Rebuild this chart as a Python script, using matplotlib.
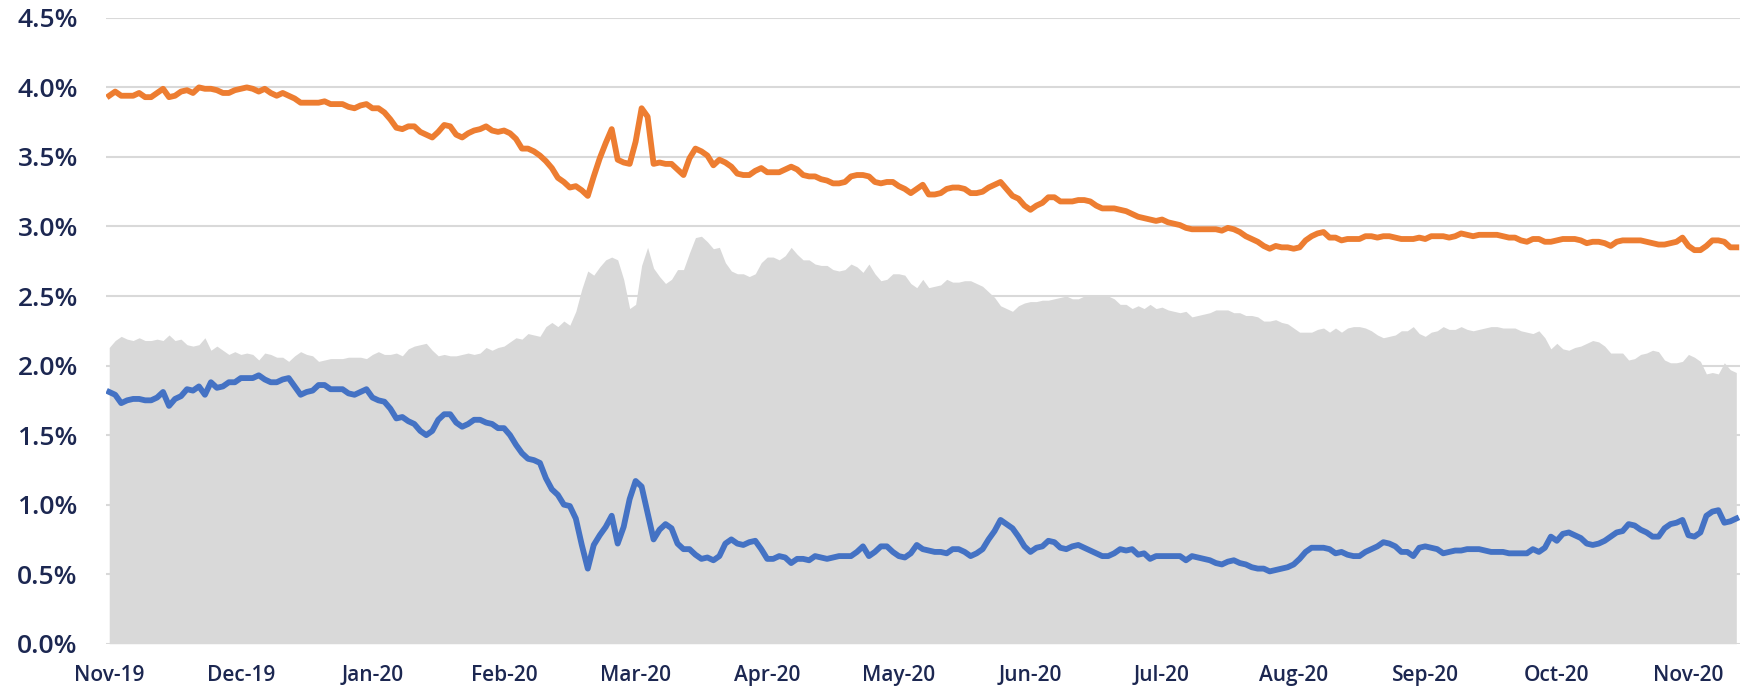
import numpy as np
import pandas as pd
import matplotlib
matplotlib.use("Agg")
import matplotlib.pyplot as plt

# daily rates (%), one value per business day from 1 Nov 2019
upper_rate = [
    3.94, 3.97, 3.94, 3.94, 3.94, 3.96, 3.93, 3.93, 3.96, 3.99,
    3.93, 3.94, 3.97, 3.98, 3.96, 4.00, 3.99, 3.99, 3.98, 3.96,
    3.96, 3.98, 3.99, 4.00, 3.99, 3.97, 3.99, 3.96, 3.94, 3.96,
    3.94, 3.92, 3.89, 3.89, 3.89, 3.89, 3.90, 3.88, 3.88, 3.88,
    3.86, 3.85, 3.87, 3.88, 3.85, 3.85, 3.82, 3.77, 3.71, 3.70,
    3.72, 3.72, 3.68, 3.66, 3.64, 3.68, 3.73, 3.72, 3.66, 3.64,
    3.67, 3.69, 3.70, 3.72, 3.69, 3.68, 3.69, 3.67, 3.63, 3.56,
    3.56, 3.54, 3.51, 3.47, 3.42, 3.35, 3.32, 3.28, 3.29, 3.26,
    3.22, 3.36, 3.49, 3.60, 3.70, 3.48, 3.46, 3.45, 3.61, 3.85,
    3.79, 3.45, 3.46, 3.45, 3.45, 3.41, 3.37, 3.49, 3.56, 3.54,
    3.51, 3.44, 3.48, 3.46, 3.43, 3.38, 3.37, 3.37, 3.40, 3.42,
    3.39, 3.39, 3.39, 3.41, 3.43, 3.41, 3.37, 3.36, 3.36, 3.34,
    3.33, 3.31, 3.31, 3.32, 3.36, 3.37, 3.37, 3.36, 3.32, 3.31,
    3.32, 3.32, 3.29, 3.27, 3.24, 3.27, 3.30, 3.23, 3.23, 3.24,
    3.27, 3.28, 3.28, 3.27, 3.24, 3.24, 3.25, 3.28, 3.30, 3.32,
    3.27, 3.22, 3.20, 3.15, 3.12, 3.15, 3.17, 3.21, 3.21, 3.18,
    3.18, 3.18, 3.19, 3.19, 3.18, 3.15, 3.13, 3.13, 3.13, 3.12,
    3.11, 3.09, 3.07, 3.06, 3.05, 3.04, 3.05, 3.03, 3.02, 3.01,
    2.99, 2.98, 2.98, 2.98, 2.98, 2.98, 2.97, 2.99, 2.98, 2.96,
    2.93, 2.91, 2.89, 2.86, 2.84, 2.86, 2.85, 2.85, 2.84, 2.85,
    2.90, 2.93, 2.95, 2.96, 2.92, 2.92, 2.90, 2.91, 2.91, 2.91,
    2.93, 2.93, 2.92, 2.93, 2.93, 2.92, 2.91, 2.91, 2.91, 2.92,
    2.91, 2.93, 2.93, 2.93, 2.92, 2.93, 2.95, 2.94, 2.93, 2.94,
    2.94, 2.94, 2.94, 2.93, 2.92, 2.92, 2.90, 2.89, 2.91, 2.91,
    2.89, 2.89, 2.90, 2.91, 2.91, 2.91, 2.90, 2.88, 2.89, 2.89,
    2.88, 2.86, 2.89, 2.90, 2.90, 2.90, 2.90, 2.89, 2.88, 2.87,
    2.87, 2.88, 2.89, 2.92, 2.86, 2.83, 2.83, 2.86, 2.90, 2.90,
    2.89, 2.85, 2.85,
]

lower_rate = [
    1.81, 1.79, 1.73, 1.75, 1.76, 1.76, 1.75, 1.75, 1.77, 1.81,
    1.71, 1.76, 1.78, 1.83, 1.82, 1.85, 1.79, 1.88, 1.84, 1.85,
    1.88, 1.88, 1.91, 1.91, 1.91, 1.93, 1.90, 1.88, 1.88, 1.90,
    1.91, 1.85, 1.79, 1.81, 1.82, 1.86, 1.86, 1.83, 1.83, 1.83,
    1.80, 1.79, 1.81, 1.83, 1.77, 1.75, 1.74, 1.69, 1.62, 1.63,
    1.60, 1.58, 1.53, 1.50, 1.53, 1.61, 1.65, 1.65, 1.59, 1.56,
    1.58, 1.61, 1.61, 1.59, 1.58, 1.55, 1.55, 1.50, 1.43, 1.37,
    1.33, 1.32, 1.30, 1.19, 1.11, 1.07, 1.00, 0.99, 0.90, 0.71,
    0.54, 0.71, 0.78, 0.84, 0.92, 0.72, 0.84, 1.04, 1.17, 1.13,
    0.94, 0.75, 0.82, 0.86, 0.83, 0.72, 0.68, 0.68, 0.64, 0.61,
    0.62, 0.60, 0.63, 0.72, 0.75, 0.72, 0.71, 0.73, 0.74, 0.68,
    0.61, 0.61, 0.63, 0.62, 0.58, 0.61, 0.61, 0.60, 0.63, 0.62,
    0.61, 0.62, 0.63, 0.63, 0.63, 0.66, 0.70, 0.63, 0.66, 0.70,
    0.70, 0.66, 0.63, 0.62, 0.65, 0.71, 0.68, 0.67, 0.66, 0.66,
    0.65, 0.68, 0.68, 0.66, 0.63, 0.65, 0.68, 0.75, 0.81, 0.89,
    0.86, 0.83, 0.77, 0.70, 0.66, 0.69, 0.70, 0.74, 0.73, 0.69,
    0.68, 0.70, 0.71, 0.69, 0.67, 0.65, 0.63, 0.63, 0.65, 0.68,
    0.67, 0.68, 0.64, 0.65, 0.61, 0.63, 0.63, 0.63, 0.63, 0.63,
    0.60, 0.63, 0.62, 0.61, 0.60, 0.58, 0.57, 0.59, 0.60, 0.58,
    0.57, 0.55, 0.54, 0.54, 0.52, 0.53, 0.54, 0.55, 0.57, 0.61,
    0.66, 0.69, 0.69, 0.69, 0.68, 0.65, 0.66, 0.64, 0.63, 0.63,
    0.66, 0.68, 0.70, 0.73, 0.72, 0.70, 0.66, 0.66, 0.63, 0.69,
    0.70, 0.69, 0.68, 0.65, 0.66, 0.67, 0.67, 0.68, 0.68, 0.68,
    0.67, 0.66, 0.66, 0.66, 0.65, 0.65, 0.65, 0.65, 0.68, 0.66,
    0.69, 0.77, 0.74, 0.79, 0.80, 0.78, 0.76, 0.72, 0.71, 0.72,
    0.74, 0.77, 0.80, 0.81, 0.86, 0.85, 0.82, 0.80, 0.77, 0.77,
    0.83, 0.86, 0.87, 0.89, 0.78, 0.77, 0.80, 0.92, 0.95, 0.96,
    0.87, 0.88, 0.90,
]

yticks = [0.0, 0.5, 1.0, 1.5, 2.0, 2.5, 3.0, 3.5, 4.0, 4.5]
label_every = 22

dates = pd.bdate_range("2019-11-01", periods=len(upper_rate))
upper = np.array(upper_rate)
lower = np.array(lower_rate)
spread = upper - lower  # grey area is the gap between the two rates
idx = np.arange(len(dates))

navy = "#1c2751"
plt.rcParams["font.family"] = ["Open Sans", "DejaVu Sans"]

fig = plt.figure(figsize=(17.46, 6.87), dpi=100)
ax = fig.add_axes([0.0605, 0.063, 0.936, 0.911])

ax.fill_between(idx, 0, spread, color="#d9d9d9", linewidth=0, zorder=2)
ax.plot(idx, upper, color="#ed7d31", linewidth=4.2, solid_joinstyle="round", zorder=3)
ax.plot(idx, lower, color="#4472c4", linewidth=4.2, solid_joinstyle="round", zorder=3)

ax.set_ylim(0, 4.5)
ax.set_xlim(-0.6, len(idx) - 0.4)
ax.set_yticks(yticks)
ax.set_yticklabels([f"{t:.1f}%" for t in yticks])
ticks = idx[::label_every]
ax.set_xticks(ticks)
ax.set_xticklabels([d.strftime("%b-%y") for d in dates[ticks]])

ax.grid(axis="y", color="#d9d9d9", linewidth=1.5, zorder=0)
ax.set_axisbelow(True)
for s in ax.spines.values():
    s.set_visible(False)
ax.tick_params(axis="y", length=0, pad=20, labelsize=19, labelcolor=navy)
ax.tick_params(axis="x", length=0, pad=15, labelsize=15, labelcolor=navy)
for lab in ax.get_yticklabels() + ax.get_xticklabels():
    lab.set_fontweight("semibold")

fig.savefig("out.png", dpi=100)
